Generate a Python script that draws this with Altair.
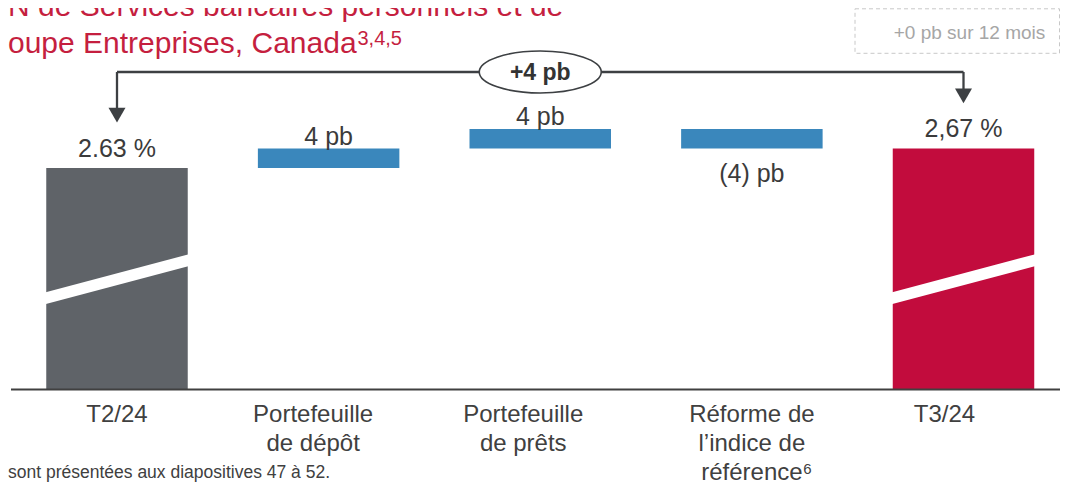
import altair as alt
import pandas as pd

# ---------------- data ----------------
categories = ["T2/24", "Portefeuille\nde dépôt", "Portefeuille\nde prêts",
              "Réforme de\nl’indice de\nréférence", "T3/24"]
superscripts = ["", "", "", "6", ""]
kinds = ["start", "delta", "delta", "delta", "end"]
values_pct = [2.63, 0.04, 0.04, -0.04, 2.67]
value_labels = ["2.63 %", "4 pb", "4 pb", "(4) pb", "2,67 %"]

title_line1 = "N de Services bancaires personnels et de"
title_line2 = "oupe Entreprises, Canada"
title_sup = "3,4,5"
change_label = "+4 pb"
box_label = "+0 pb sur 12 mois"
footnote = "sont présentées aux diapositives 47 à 52."

# ---------------- layout constants ----------------
FONT = "Liberation Sans, Arial, sans-serif"
W, H = 1052, 474
STEP_PX = 211.625
X_DOM = [-0.51506, 4.45600]
Y_DOM = [1.98590, 2.95821]
BASE = 2.17564          # broken-axis baseline
HALF = 0.3343           # half bar width (category units)
BREAK_L, BREAK_R = 2.3633, 2.4403
CONN_Y = 2.82692
ARROW_L, ARROW_R = 2.7385, 2.7779
CAT_LABEL_SHIFT_PX = [0, -15.5, -17, 0, -19]   # label centre offsets vs bar centre

GREY, BLUE, RED = "#5F6368", "#3A87BC", "#C20C3D"
DARK = "#3D4043"
TXT = "#3B3B3B"
TITLE_RED = "#C51F3F"

xs = alt.Scale(domain=X_DOM, nice=False, zero=False)
ys = alt.Scale(domain=Y_DOM, nice=False, zero=False)

# ---------------- waterfall table ----------------
rows = []
running = None
for i, (c, k, v, lab, sup) in enumerate(zip(categories, kinds, values_pct, value_labels, superscripts)):
    if k == "start":
        lo, hi = BASE, v
        running = v
    elif k == "delta":
        a, b = running, running + v
        lo, hi = min(a, b), max(a, b)
        running = b
    else:
        lo, hi = BASE, v
    rows.append(dict(i=i, cat=c, kind=k, v=v, lo=lo, hi=hi, label=lab, sup=sup,
                     lx=i + CAT_LABEL_SHIFT_PX[i] / STEP_PX,
                     dir=("total" if k != "delta" else ("up" if v > 0 else "down"))))
df = pd.DataFrame(rows)

base = alt.Chart(df).transform_calculate(xa=f"datum.i - {HALF}", xb=f"datum.i + {HALF}")

bars = base.mark_rect().encode(
    x=alt.X("xa:Q", scale=xs, axis=None),
    x2="xb:Q",
    y=alt.Y("lo:Q", scale=ys, axis=None),
    y2="hi:Q",
    color=alt.Color("kind:N", scale=alt.Scale(domain=["start", "delta", "end"], range=[GREY, BLUE, RED]), legend=None),
)

breaks = base.transform_filter("datum.kind != 'delta'").transform_calculate(
    yl=f"{BREAK_L}", yr=f"{BREAK_R}"
).mark_rule(color="white", strokeWidth=11.5, strokeCap="square").encode(
    x=alt.X("xa:Q", scale=xs, axis=None), x2="xb:Q",
    y=alt.Y("yl:Q", scale=ys, axis=None), y2="yr:Q",
)

axis_df = pd.DataFrame({"x": [-0.5009], "x2": [X_DOM[1]], "y": [BASE]})
axis_line = alt.Chart(axis_df).mark_rule(color="#404040", strokeWidth=2).encode(
    x=alt.X("x:Q", scale=xs, axis=None), x2="x2:Q",
    y=alt.Y("y:Q", scale=ys, axis=None),
)

def vlabel(direction, field, dy):
    return base.transform_filter(f"datum.dir == '{direction}'").mark_text(
        font=FONT, fontSize=25, color=TXT, baseline="alphabetic", align="center", dy=dy
    ).encode(
        x=alt.X("i:Q", scale=xs, axis=None),
        y=alt.Y(f"{field}:Q", scale=ys, axis=None),
        text="label:N",
    )

lab_total = vlabel("total", "hi", -11.5)
lab_up = vlabel("up", "hi", -4)
lab_down = vlabel("down", "lo", 33.5)

cat_labels = base.mark_text(
    font=FONT, fontSize=24, color="#404040", baseline="alphabetic", align="center",
    lineBreak="\n", lineHeight=29.3
).encode(
    x=alt.X("lx:Q", scale=xs, axis=None),
    y=alt.value(413.7),
    text="cat:N",
)
sup_labels = base.transform_filter("datum.sup != ''").mark_text(
    font=FONT, fontSize=15, color="#404040", baseline="alphabetic", align="left", dx=51.5
).encode(
    x=alt.X("lx:Q", scale=xs, axis=None),
    y=alt.value(466),
    text="sup:N",
)

# ---------------- connector annotation ----------------
conn_df = pd.DataFrame({
    "x": [0, 0, 4],
    "x2": [4, 0, 4],
    "y": [CONN_Y, CONN_Y, CONN_Y],
    "y2": [CONN_Y, ARROW_L, ARROW_R],
})
conn = alt.Chart(conn_df).mark_rule(color=DARK, strokeWidth=2.3).encode(
    x=alt.X("x:Q", scale=xs, axis=None), x2="x2:Q",
    y=alt.Y("y:Q", scale=ys, axis=None), y2="y2:Q",
)
arrow_df = pd.DataFrame({"x": [0, 4], "y": [ARROW_L, ARROW_R]})
arrows = alt.Chart(arrow_df).mark_point(shape="triangle-down", filled=True, size=289,
                                        color=DARK, opacity=1).encode(
    x=alt.X("x:Q", scale=xs, axis=None),
    y=alt.Y("y:Q", scale=ys, axis=None),
)
k = 0.344
c = 0.5523
ellipse_path = (f"M -1 0 C -1 {-c*k:.4f} {-c:.4f} {-k} 0 {-k} "
                f"C {c:.4f} {-k} 1 {-c*k:.4f} 1 0 "
                f"C 1 {c*k:.4f} {c:.4f} {k} 0 {k} "
                f"C {-c:.4f} {k} -1 {c*k:.4f} -1 0 Z")
ell_df = pd.DataFrame({"x": [2], "y": [CONN_Y], "t": [change_label]})
ellipse = alt.Chart(ell_df).mark_point(shape=ellipse_path, size=122 * 122, filled=True,
                                       fill="white", stroke=DARK, strokeWidth=1.6,
                                       opacity=1, fillOpacity=1).encode(
    x=alt.X("x:Q", scale=xs, axis=None),
    y=alt.Y("y:Q", scale=ys, axis=None),
)
ell_text = alt.Chart(ell_df).mark_text(font=FONT, fontSize=23, fontWeight="bold", color="#333333",
                                       baseline="alphabetic", align="center", dy=7.5).encode(
    x=alt.X("x:Q", scale=xs, axis=None),
    y=alt.Y("y:Q", scale=ys, axis=None),
    text="t:N",
)

# ---------------- texts ----------------
one = pd.DataFrame({"a": [0]})

def free_text(txt, x, y, size, color, align="left", weight="normal"):
    return alt.Chart(one).mark_text(font=FONT, fontSize=size, color=color, align=align,
                                    baseline="alphabetic", fontWeight=weight).encode(
        x=alt.value(x), y=alt.value(y), text=alt.value(txt))

t1 = free_text(title_line1, 0, 8, 30, TITLE_RED)
t2 = free_text(title_line2, 0, 45.3, 30, TITLE_RED)
t2s = free_text(title_sup, 349.5, 37, 20, TITLE_RED)
box = alt.Chart(one).mark_rect(fill="white", fillOpacity=0, stroke="#C8C8C8", strokeWidth=1,
                               strokeDash=[4, 3]).encode(
    x=alt.value(847), x2=alt.value(1051.5), y=alt.value(0.8), y2=alt.value(45.3))
box_t = free_text(box_label, 961.5, 31.3, 19, "#A6A6A6", align="center")
foot = free_text(footnote, 0, 470, 17.5, "#404040")

chart = alt.layer(
    bars, breaks, axis_line, lab_total, lab_up, lab_down,
    conn, arrows, ellipse, ell_text, cat_labels, sup_labels,
    t1, t2, t2s, box, box_t, foot,
).properties(
    width=W, height=H, padding=0,
    autosize=alt.AutoSizeParams(type="none"),
).configure_view(strokeWidth=0)

chart.save("out.html", embed_options={"renderer": "svg", "actions": False})
